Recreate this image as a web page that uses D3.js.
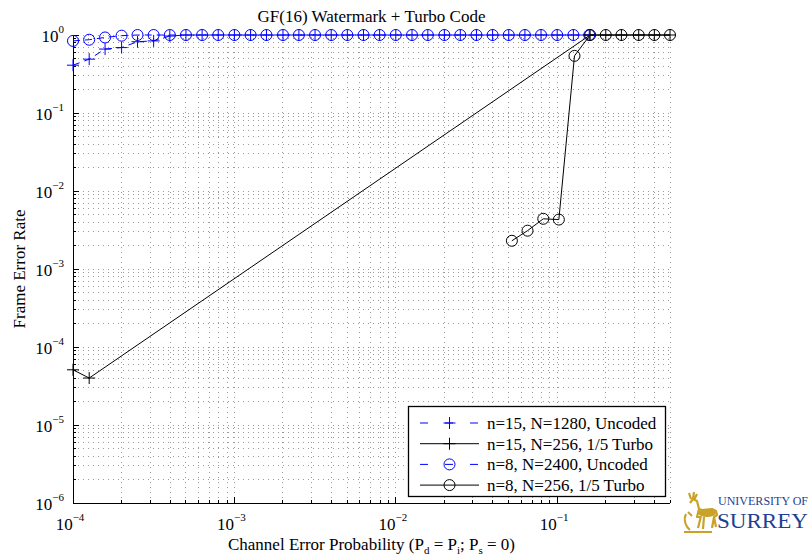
<!DOCTYPE html>
<meta charset="utf-8">
<style>
body { margin: 0; background: #fff; }
svg { display: block; }
text { font-family: "Liberation Serif", "Times New Roman", serif; fill: #000; }
.grid line { stroke: #9a9a9a; stroke-dasharray: 1,4; shape-rendering: crispEdges; }
</style>
<svg width="812" height="555"></svg>
<script src="https://d3js.org/d3.v7.min.js"></script>
<script>

// channel error probability, one point every 0.1 decade from 1e-4
var xUncoded = [1.00e-4, 1.26e-4, 1.58e-4, 2.00e-4, 2.51e-4, 3.16e-4, 3.98e-4, 5.01e-4, 6.31e-4, 7.94e-4,
                1.00e-3, 1.26e-3, 1.58e-3, 2.00e-3, 2.51e-3, 3.16e-3, 3.98e-3, 5.01e-3, 6.31e-3, 7.94e-3,
                1.00e-2, 1.26e-2, 1.58e-2, 2.00e-2, 2.51e-2, 3.16e-2, 3.98e-2, 5.01e-2, 6.31e-2, 7.94e-2,
                0.100, 0.126, 0.158];
var ferN15Uncoded = [0.41, 0.49, 0.66, 0.69, 0.82, 0.84, 0.97, 1, 1, 1,
                     1, 1, 1, 1, 1, 1, 1, 1, 1, 1,
                     1, 1, 1, 1, 1, 1, 1, 1, 1, 1,
                     1, 1, 1];
var ferN8Uncoded = [0.84, 0.87, 0.93, 0.98, 1, 1, 1, 1, 1, 1,
                    1, 1, 1, 1, 1, 1, 1, 1, 1, 1,
                    1, 1, 1, 1, 1, 1, 1, 1, 1, 1,
                    1, 1, 1];

var xN15Turbo = [1.00e-4, 1.26e-4, 0.16, 0.2, 0.25, 0.32, 0.4, 0.5];
var ferN15Turbo = [5.1e-5, 4.0e-5, 1, 1, 1, 1, 1, 1];

var xN8Turbo = [0.0524, 0.0655, 0.082, 0.1024, 0.128, 0.16, 0.2, 0.25, 0.32, 0.4, 0.5];
var ferN8Turbo = [2.3e-3, 3.1e-3, 4.4e-3, 4.3e-3, 0.54, 1, 1, 1, 1, 1, 1];

var legendLabels = ["n=15, N=1280, Uncoded", "n=15, N=256, 1/5 Turbo",
                    "n=8, N=2400, Uncoded", "n=8, N=256, 1/5 Turbo"];

var xTicks = [1e-4, 1e-3, 1e-2, 1e-1];
var yTicks = [1e-6, 1e-5, 1e-4, 1e-3, 1e-2, 1e-1, 1];

var svg = d3.select("svg");
var margin = {top: 35, left: 73, right: 142, bottom: 52},
    W = 812, H = 555;

var x = d3.scaleLog().domain([1e-4, 0.5]).range([margin.left, W - margin.right]);
var y = d3.scaleLog().domain([1e-6, 1]).range([H - margin.bottom, margin.top]);

var x0 = x.range()[0], x1 = x.range()[1], y0 = y.range()[0], y1 = y.range()[1];

// minor positions 1..9 per decade
function minors(lo, hi) {
  var out = [];
  for (var e = Math.round(Math.log10(lo)); e < Math.round(Math.log10(hi)); e++)
    for (var m = 1; m < 10; m++) out.push(m * Math.pow(10, e));
  out.push(hi);
  return out.filter(v => v >= lo * 0.999 && v <= hi * 1.001);
}
var xGrid = minors(1e-4, 1).filter(v => v <= 0.5);
var yGrid = minors(1e-6, 1);

// grid
var grid = svg.append("g").attr("class", "grid");
grid.selectAll(".gx").data(xGrid).enter().append("line")
    .attr("x1", d => x(d)).attr("x2", d => x(d)).attr("y1", y0).attr("y2", y1);
grid.selectAll(".gy").data(yGrid).enter().append("line")
    .attr("x1", x0).attr("x2", x1).attr("y1", d => y(d)).attr("y2", d => y(d));

// axes lines + ticks (inward, matlab style)
var ax = svg.append("g").attr("stroke", "#000").attr("stroke-width", 1).attr("shape-rendering", "crispEdges");
ax.append("line").attr("x1", x0).attr("x2", x0).attr("y1", y0).attr("y2", y1);
ax.append("line").attr("x1", x0).attr("x2", x1).attr("y1", y0).attr("y2", y0);
xGrid.forEach(function(v) {
  var major = xTicks.indexOf(v) >= 0;
  ax.append("line").attr("x1", x(v)).attr("x2", x(v)).attr("y1", y0).attr("y2", y0 - (major ? 6 : 3));
});
yGrid.forEach(function(v) {
  var major = yTicks.indexOf(v) >= 0;
  ax.append("line").attr("x1", x0).attr("x2", x0 + (major ? 6 : 3)).attr("y1", y(v)).attr("y2", y(v));
});

function expo(v) { return String(Math.round(Math.log10(v))).replace("-", "\u2212"); }

// tick labels
xTicks.forEach(function(v) {
  var t = svg.append("text").attr("x", x(v) - 3).attr("y", 530).attr("text-anchor", "middle").attr("font-size", 17);
  t.append("tspan").text("10");
  t.append("tspan").attr("dy", -9).attr("font-size", 11).text(expo(v));
});
yTicks.forEach(function(v) {
  var t = svg.append("text").attr("x", 64).attr("y", y(v) + 7).attr("text-anchor", "end").attr("font-size", 17);
  t.append("tspan").text("10");
  t.append("tspan").attr("dy", -9).attr("font-size", 11).text(expo(v));
});

// titles
svg.append("text").attr("x", (x0 + x1) / 2).attr("y", 22).attr("text-anchor", "middle")
   .attr("font-size", 17).text("GF(16) Watermark + Turbo Code");
svg.append("text").attr("transform", "translate(25," + ((y0 + y1) / 2) + ") rotate(-90)")
   .attr("text-anchor", "middle").attr("font-size", 17).text("Frame Error Rate");
var xl = svg.append("text").attr("x", (x0 + x1) / 2).attr("y", 550).attr("text-anchor", "middle").attr("font-size", 17);
xl.append("tspan").text("Channel Error Probability (P");
xl.append("tspan").attr("dy", 4).attr("font-size", 11).text("d");
xl.append("tspan").attr("dy", -4).text(" = P");
xl.append("tspan").attr("dy", 4).attr("font-size", 11).text("i");
xl.append("tspan").attr("dy", -4).text("; P");
xl.append("tspan").attr("dy", 4).attr("font-size", 11).text("s");
xl.append("tspan").attr("dy", -4).text(" = 0)");

// series
var series = [
  {xs: xUncoded, ys: ferN15Uncoded, color: "#0000ff", dash: "7,5", marker: "plus"},
  {xs: xN15Turbo, ys: ferN15Turbo, color: "#000", dash: null, marker: "plus"},
  {xs: xUncoded, ys: ferN8Uncoded, color: "#0000ff", dash: "7,5", marker: "circle"},
  {xs: xN8Turbo, ys: ferN8Turbo, color: "#000", dash: null, marker: "circle"}
];

var line = d3.line().x(d => x(d[0])).y(d => y(d[1]));

function drawMarker(g, cx, cy, s) {
  if (s.marker === "plus") {
    g.append("path").attr("d", "M" + (cx - 6) + "," + cy + "h12M" + cx + "," + (cy - 6) + "v12")
     .attr("stroke", s.color).attr("stroke-width", 1).attr("fill", "none");
  } else {
    g.append("circle").attr("cx", cx).attr("cy", cy).attr("r", 5.5)
     .attr("stroke", s.color).attr("stroke-width", 1).attr("fill", "none");
  }
}

series.forEach(function(s) {
  var pts = d3.zip(s.xs, s.ys);
  var g = svg.append("g");
  g.append("path").datum(pts).attr("d", line).attr("fill", "none")
   .attr("stroke", s.color).attr("stroke-width", 1).attr("stroke-dasharray", s.dash);
  pts.forEach(p => drawMarker(g, x(p[0]), y(p[1]), s));
});

// legend
var lg = svg.append("g");
lg.append("rect").attr("x", 408.5).attr("y", 406.5).attr("width", 257).attr("height", 90)
  .attr("fill", "#fff").attr("stroke", "#000").attr("stroke-width", 1.3);
series.forEach(function(s, i) {
  var ly = 423 + i * 20.7;
  lg.append("line").attr("x1", 420).attr("x2", 479).attr("y1", ly).attr("y2", ly)
    .attr("stroke", s.color).attr("stroke-width", 1).attr("stroke-dasharray", s.dash ? "8,17" : null);
  drawMarker(lg, 449.5, ly, s);
  lg.append("text").attr("x", 487).attr("y", ly + 6).attr("font-size", 17).text(legendLabels[i]);
});

// university logo
var logo = svg.append("g");
var gold = "#c9a227", blue = "#1d3f94";
logo.append("path")
  .attr("d", "M689,493 L691,499 M694,492 L693,499 M697,494 L694,500" +
             "M690,503 L693,499 L697,501 L699,509 L702,510 L712,509 L716,511 L717,515 L714,517 L716,527" +
             "M714,517 L712,528 M704,517 L703,529 M701,516 L698,528 M699,509 L697,517 L701,517")
  .attr("stroke", gold).attr("stroke-width", 2.2).attr("fill", "none").attr("stroke-linejoin", "round");
logo.append("ellipse").attr("cx", 707).attr("cy", 513).attr("rx", 9).attr("ry", 4).attr("fill", gold);
logo.append("path")
  .attr("d", "M686,514 C683,520 686,527 690,530 M684,532 L712,532 M688,512 L692,516")
  .attr("stroke", gold).attr("stroke-width", 2).attr("fill", "none");
logo.append("text").attr("x", 718).attr("y", 505).attr("font-family", "Liberation Sans, Arial, sans-serif")
  .attr("font-size", 12).attr("textLength", 90).attr("lengthAdjust", "spacingAndGlyphs")
  .style("fill", blue).text("UNIVERSITY OF");
logo.append("text").attr("x", 717).attr("y", 528).attr("font-family", "Liberation Sans, Arial, sans-serif")
  .attr("font-size", 20).attr("textLength", 91).attr("lengthAdjust", "spacingAndGlyphs")
  .style("fill", blue).text("SURREY");

</script>
